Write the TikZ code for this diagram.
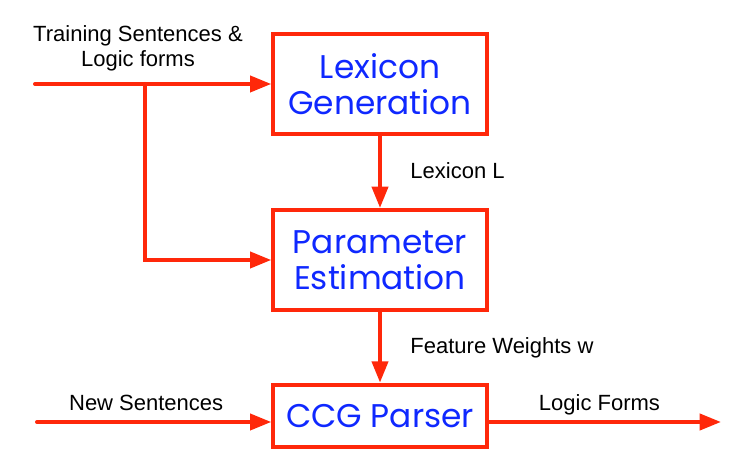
\documentclass[tikz,border=0pt]{standalone}
\usepackage{fontspec}
\setmainfont{Liberation Sans}
\newfontfamily\boxfont{Poppins}
\usetikzlibrary{positioning,calc,arrows.meta}
\definecolor{flowred}{RGB}{255,40,10}
\definecolor{flowblue}{RGB}{15,40,255}
\tikzset{
    block/.style = {draw=flowred, rectangle, line width=3pt,
        minimum height=75pt,
        minimum width=160pt, align=center,
        text=flowblue, font=\boxfont\fontsize{24.6}{27}\selectfont},
    flow/.style = {draw=flowred, line width=3pt, line cap=round, -{Triangle[length=16pt,width=12pt]}},
    tag/.style = {font=\fontsize{16.5}{19}\selectfont, align=center, text depth=0.25em}
}

\begin{document}
\begin{tikzpicture}[x=0.75pt, y=0.75pt, node distance=132pt]
        \useasboundingbox (0,0) rectangle (752,463);
        \node [block] (gen) at (380,379) {Lexicon\\Generation};
        \node [block, below of=gen] (est) {Parameter\\Estimation};
        \node [block, below of=est, node distance=117pt, minimum height=47pt] (ccg) {CCG Parser};
        % inputs and outputs
        \coordinate (train) at (35,379);
        \coordinate (split) at (145,379);
        \coordinate (new) at (37,41);
        \coordinate (out) at (721,41);
        \node [tag] (traintag) at (138,415) {Training Sentences \&\\Logic forms};
        \draw [flow] (train) -- (gen);
        \draw [flow] (split) |- (est);
        \draw [flow] (gen) -- node[tag, right=18pt] (lex) {Lexicon L} (est);
        \draw [flow] (est) -- node[tag, right=18pt] (fw) {Feature Weights w} (ccg);
        \draw [flow] (new) -- node[tag, above=1pt, xshift=-6pt] (newtag) {New Sentences} (new -| ccg.west);
        \draw [flow] (out -| ccg.east) -- node[tag, above=1pt, xshift=-4pt] (outtag) {Logic Forms} (out);
    \end{tikzpicture}
\end{document}
